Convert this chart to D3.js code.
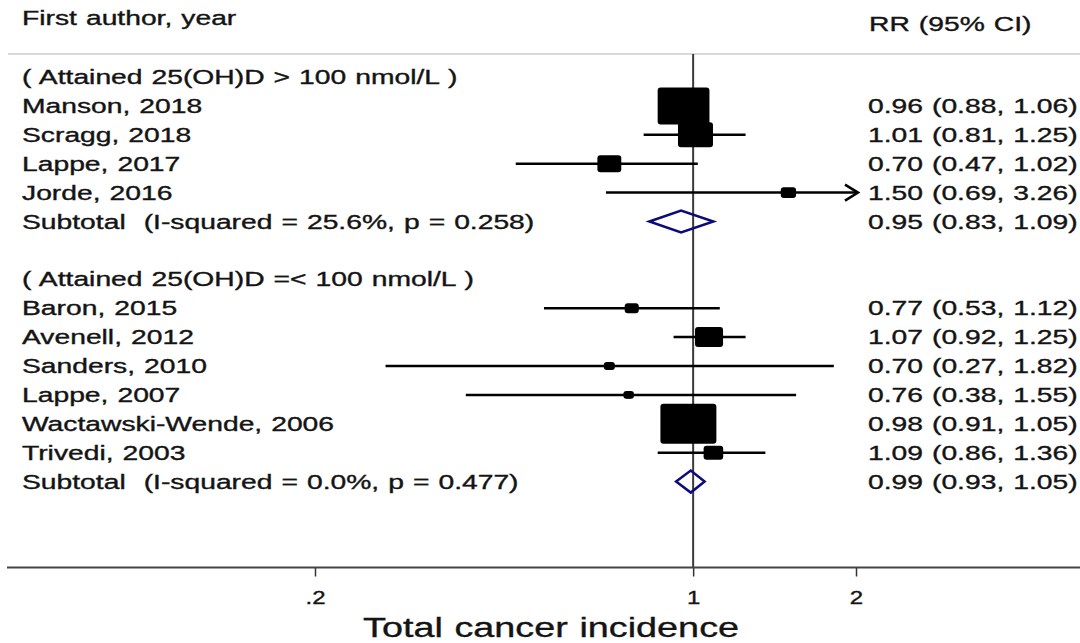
<!DOCTYPE html>
<html><head><meta charset="utf-8">
<script src="https://cdn.jsdelivr.net/npm/d3@7"></script>
<style>html,body{margin:0;padding:0;background:#fff;} svg{display:block;} text{white-space:pre;}</style>
</head><body>
<svg id="chart" width="1080" height="643"></svg>
<script>
// ---- data ----
const groupLabels = ["( Attained 25(OH)D > 100 nmol/L )", "( Attained 25(OH)D =< 100 nmol/L )"];
const studies1 = ["Manson, 2018", "Scragg, 2018", "Lappe, 2017", "Jorde, 2016"];
const rr1 = [0.96, 1.01, 0.70, 1.50];
const lo1 = [0.88, 0.81, 0.47, 0.69];
const hi1 = [1.06, 1.25, 1.02, 3.26];
const wt1 = [28.7, 13.1, 6.1, 2.5];
const studies2 = ["Baron, 2015", "Avenell, 2012", "Sanders, 2010", "Lappe, 2007", "Wactawski-Wende, 2006", "Trivedi, 2003"];
const rr2 = [0.77, 1.07, 0.70, 0.76, 0.98, 1.09];
const lo2 = [0.53, 0.92, 0.27, 0.38, 0.91, 0.86];
const hi2 = [1.12, 1.25, 1.82, 1.55, 1.05, 1.36];
const wt2 = [2.1, 8.4, 1.3, 1.2, 33.5, 4.1];
const subtotalLabels = ["Subtotal  (I-squared = 25.6%, p = 0.258)", "Subtotal  (I-squared = 0.0%, p = 0.477)"];
const subtotalRR = [0.95, 0.99];
const subtotalLo = [0.83, 0.93];
const subtotalHi = [1.09, 1.05];
const tickValues = [0.2, 1, 2];
const tickLabels = [".2", "1", "2"];
const headerLeft = "First author, year";
const headerRight = "RR (95% CI)";
const axisTitle = "Total cancer incidence";

// ---- layout ----
const svg = d3.select("#chart");
const FONT = "'Liberation Sans', Arial, sans-serif";
const SX = 1.45; // horizontal stretch of the original picture
const TXT = "#141414";

// build row list
const rows = [];
[[studies1, rr1, lo1, hi1, wt1], [studies2, rr2, lo2, hi2, wt2]].forEach((g, gi) => {
  rows.push({type: "header", label: groupLabels[gi]});
  g[0].forEach((s, i) => rows.push({type: "study", label: s, rr: g[1][i], lo: g[2][i], hi: g[3][i], w: g[4][i]}));
  rows.push({type: "subtotal", label: subtotalLabels[gi], rr: subtotalRR[gi], lo: subtotalLo[gi], hi: subtotalHi[gi]});
  if (gi === 0) rows.push({type: "blank"});
});

const y = d3.scaleLinear().domain([0, rows.length - 1]).range([77, 77 + 28.9 * (rows.length - 1)]);
const x = d3.scaleLog().domain([0.2, 2]).range([315, 856]);
const size = d3.scaleSqrt().domain([0, 28.7]).range([0, 37]);
const fmt = d3.format(".2f");

function stext(g, tx, ty, str, fs, anchor, sx) {
  return g.append("text")
    .attr("transform", `translate(${tx},${ty}) scale(${sx || SX},1)`)
    .attr("font-family", FONT)
    .attr("font-size", fs)
    .attr("text-anchor", anchor || "start")
    .attr("fill", TXT)
    .attr("stroke", TXT)
    .attr("stroke-width", 0.35)
    .attr("word-spacing", 0.8)
    .text(str);
}

// header
stext(svg, 22, 25, headerLeft, 19.5);
stext(svg, 869, 31, headerRight, 19.5);
svg.append("line").attr("x1", 8).attr("x2", 1080).attr("y1", 54).attr("y2", 54)
  .attr("stroke", "#cdcdcd").attr("stroke-width", 1.5);

// null line
svg.append("line").attr("x1", x(1)).attr("x2", x(1)).attr("y1", 54).attr("y2", 567)
  .attr("stroke", "#3a3a3a").attr("stroke-width", 2);

// rows
const xMax = x.domain()[1];
rows.forEach((r, i) => {
  const cy = y(i);
  if (r.type === "blank") return;
  stext(svg, 22, cy + 7, r.label, 19.5);
  if (r.type === "header") return;
  stext(svg, 868, cy + 7, `${fmt(r.rr)} (${fmt(r.lo)}, ${fmt(r.hi)})`, 19.5);
  if (r.type === "study") {
    const clipped = r.hi > xMax;
    const xEnd = clipped ? x(xMax) + 2 : x(r.hi);
    svg.append("line").attr("x1", x(r.lo)).attr("x2", xEnd).attr("y1", cy).attr("y2", cy)
      .attr("stroke", "#000").attr("stroke-width", 2.5);
    if (clipped) {
      svg.append("path")
        .attr("d", `M${xEnd - 13},${cy - 8} L${xEnd},${cy} L${xEnd - 13},${cy + 8}`)
        .attr("fill", "none").attr("stroke", "#000").attr("stroke-width", 2.5);
    }
    const h = Math.max(size(r.w), 5);
    const w = h * 1.4;
    svg.append("rect").attr("x", x(r.rr) - w / 2).attr("y", cy - h / 2)
      .attr("width", w).attr("height", h).attr("rx", Math.min(3, h / 2.5)).attr("fill", "#000");
    svg.append("ellipse").attr("cx", x(r.rr)).attr("cy", cy).attr("rx", 4.5).attr("ry", 3.5).attr("fill", "#000");
  } else {
    const hh = 11;
    svg.append("path")
      .attr("d", `M${x(r.lo)},${cy} L${x(r.rr)},${cy - hh} L${x(r.hi)},${cy} L${x(r.rr)},${cy + hh} Z`)
      .attr("fill", "none").attr("stroke", "#0b0b7a").attr("stroke-width", 2.5);
  }
});

// x axis
const axisG = svg.append("g").attr("transform", "translate(0,567.5)")
  .call(d3.axisBottom(x).tickValues(tickValues).tickSize(9).tickPadding(0)
    .tickFormat((d, i) => tickLabels[i]));
axisG.select(".domain").remove();
axisG.selectAll(".tick line").attr("stroke", "#333").attr("stroke-width", 1.5);
axisG.selectAll(".tick text").remove();
axisG.selectAll(".tick").each(function(d, i) {
  stext(d3.select(this), 0, 36, tickLabels[i], 18.5, "middle", 1.3);
});
svg.append("line").attr("x1", 7).attr("x2", 1080).attr("y1", 567.5).attr("y2", 567.5)
  .attr("stroke", "#444").attr("stroke-width", 2);

stext(svg, 551, 637, axisTitle, 27, "middle", 1.4);
</script>
</body></html>
